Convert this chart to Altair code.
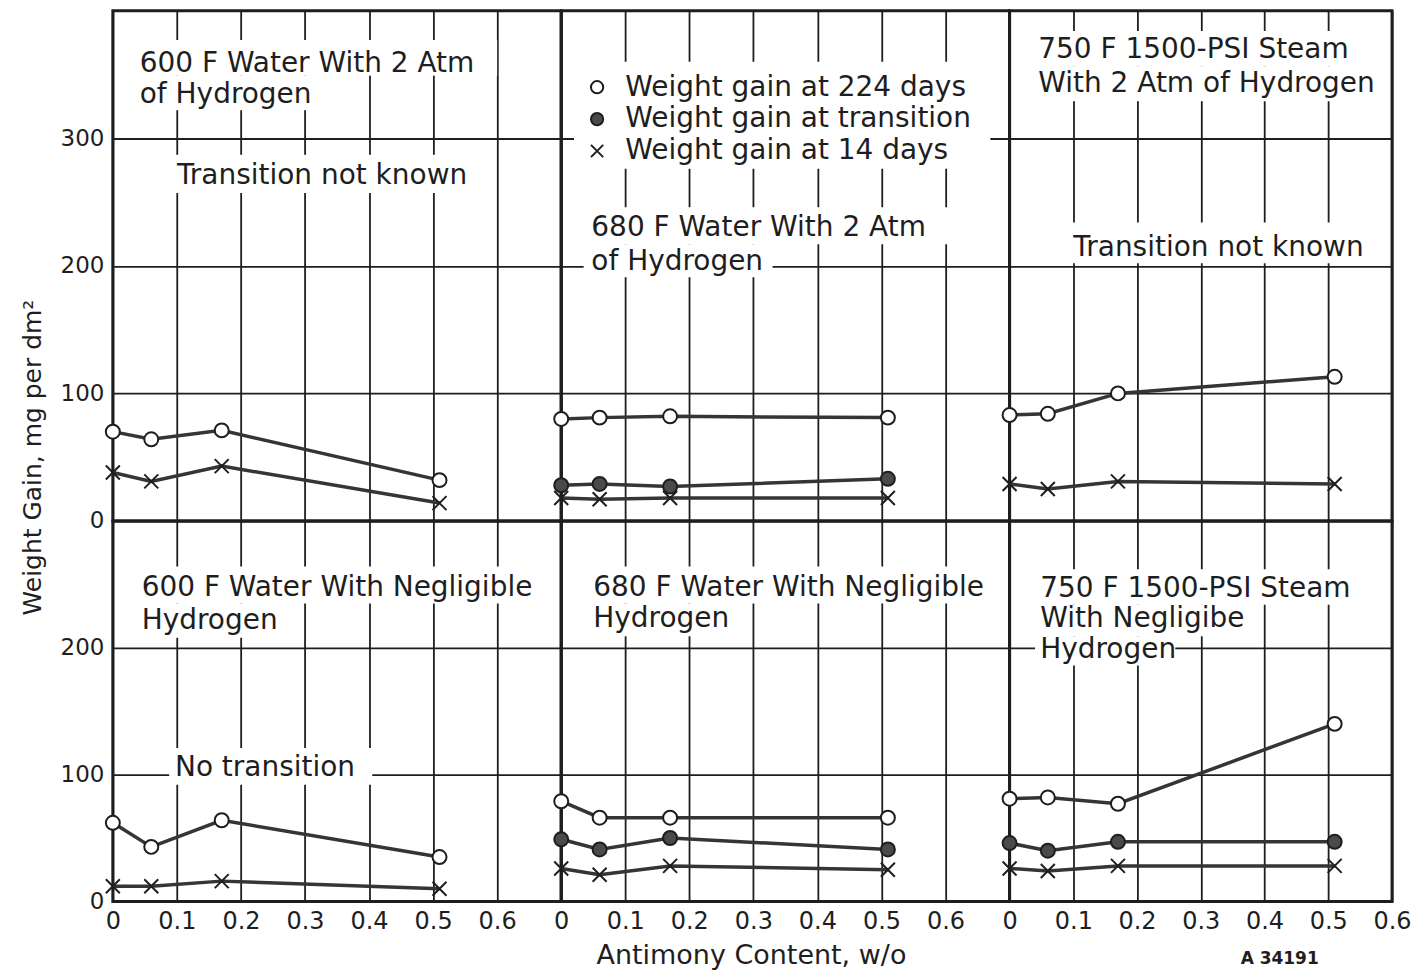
import altair as alt
import pandas as pd

FONT = "DejaVu Sans"
INK = "#1e1e1e"

# ---------------- data ----------------
antimony = [0.0, 0.06, 0.17, 0.51]          # Antimony content, w/o
series_names = ["Weight gain at 224 days", "Weight gain at transition", "Weight gain at 14 days"]

# 600 F water with 2 atm hydrogen
w600_h2_224 = [70, 64, 71, 32]
w600_h2_14 = [38, 31, 43, 14]
# 680 F water with 2 atm hydrogen
w680_h2_224 = [80, 81, 82, 81]
w680_h2_tr = [28, 29, 27, 33]
w680_h2_14 = [18, 17, 18, 18]
# 750 F 1500-psi steam with 2 atm hydrogen
s750_h2_224 = [83, 84, 100, 113]
s750_h2_14 = [29, 25, 31, 29]
# 600 F water with negligible hydrogen
w600_ng_224 = [62, 43, 64, 35]
w600_ng_14 = [12, 12, 16, 10]
# 680 F water with negligible hydrogen
w680_ng_224 = [79, 66, 66, 66]
w680_ng_tr = [49, 41, 50, 41]
w680_ng_14 = [26, 21, 28, 25]
# 750 F 1500-psi steam with negligible hydrogen
s750_ng_224 = [81, 82, 77, 140]
s750_ng_tr = [46, 40, 47, 47]
s750_ng_14 = [26, 24, 28, 28]

x_ticks = [0, 0.1, 0.2, 0.3, 0.4, 0.5, 0.6]
top_y_ticks = [0, 100, 200, 300]
bottom_y_ticks = [0, 100, 200]

panel_series = {
    "p11": [(series_names[0], w600_h2_224), (series_names[2], w600_h2_14)],
    "p12": [(series_names[0], w680_h2_224), (series_names[1], w680_h2_tr), (series_names[2], w680_h2_14)],
    "p13": [(series_names[0], s750_h2_224), (series_names[2], s750_h2_14)],
    "p21": [(series_names[0], w600_ng_224), (series_names[2], w600_ng_14)],
    "p22": [(series_names[0], w680_ng_224), (series_names[1], w680_ng_tr), (series_names[2], w680_ng_14)],
    "p23": [(series_names[0], s750_ng_224), (series_names[1], s750_ng_tr), (series_names[2], s750_ng_14)],
}

# annotation texts: (label, x in w/o, y baseline in mg/dm2)
panel_texts = {
    "p11": [("600 F Water With 2 Atm", 0.042, 352), ("of Hydrogen", 0.042, 328),
            ("Transition not known", 0.1, 264.5)],
    "p12": [("680 F Water With 2 Atm", 0.047, 223), ("of Hydrogen", 0.047, 197)],
    "p13": [("750 F 1500-PSI Steam", 0.045, 363), ("With 2 Atm of Hydrogen", 0.045, 336.5),
            ("Transition not known", 0.1, 208)],
    "p21": [("600 F  Water With Negligible", 0.045, 241), ("Hydrogen", 0.045, 215),
            ("No transition", 0.097, 99)],
    "p22": [("680 F Water With Negligible", 0.05, 241), ("Hydrogen", 0.05, 216)],
    "p23": [("750 F 1500-PSI Steam", 0.048, 240), ("With Negligibe", 0.048, 216),
            ("Hydrogen", 0.048, 192)],
}
# small drawing number below the last panel
code_label = [("A 34191", 0.3625, -49.6)]

# white patches behind lettering (x1, x2, y1, y2)
panel_masks = {
    "p11": [(0.034, 0.60, 349, 377), (0.034, 0.34, 322, 349), (0.092, 0.575, 257, 287)],
    "p12": [(0.02, 0.67, 276, 360), (0.035, 0.615, 217, 246), (0.035, 0.33, 191, 217)],
    "p13": [(0.035, 0.545, 356, 384), (0.035, 0.575, 329, 356), (0.088, 0.565, 202, 234)],
    "p21": [(0.037, 0.675, 235, 264), (0.037, 0.265, 208, 235), (0.088, 0.405, 92, 121)],
    "p22": [(0.042, 0.675, 235, 264), (0.042, 0.26, 209, 235)],
    "p23": [(0.04, 0.55, 234, 262), (0.04, 0.38, 209, 234), (0.04, 0.26, 186, 209)],
}

# legend (drawn inside the 680 F / 2 atm panel)
legend_symbol_x = [0.056, 0.056, 0.056]
legend_symbol_y = [340, 315, 290]
legend_text_x = [0.1, 0.1, 0.1]
legend_text_y = [333.5, 309, 283.5]

X_SHAPE = "M-1,-1L1,1M-1,1L1,-1"
SHAPE = dict(scale=alt.Scale(domain=series_names, range=["circle", "circle", X_SHAPE]), legend=None)
FILL = dict(scale=alt.Scale(domain=series_names, range=["white", "#4a4a4a", "transparent"]), legend=None)

TEXT_SIZE = 28


def make_panel(pid, xmax, ymax, w, h, bottom, left, xtitle=None, ytitle=None):
    xscale = alt.Scale(domain=[0, xmax], nice=False, zero=False)
    yscale = alt.Scale(domain=[0, ymax], nice=False, zero=False)
    xkw = dict(values=x_ticks, labels=bottom, grid=True, gridColor=INK, gridWidth=1.8,
               ticks=False, domain=False, labelFont=FONT, labelFontSize=24, labelColor=INK,
               labelPadding=8, labelFlush=False, labelOverlap=False,
               labelExpr="datum.value == 0 ? '0' : format(datum.value, '.1f')", title=None)
    if xtitle:
        xkw.update(title=xtitle, titleFont=FONT, titleFontSize=27, titleFontWeight="normal",
                   titleColor=INK, titleX=190, titleY=62, titleAlign="center",
                   titleBaseline="alphabetic", titleAngle=0)
    ykw = dict(values=top_y_ticks if ymax == 400 else bottom_y_ticks, labels=left, grid=True,
               gridColor=INK, gridWidth=1.8, ticks=False, domain=False, labelFont=FONT,
               labelFontSize=23, labelColor=INK, labelPadding=9, labelFlush=False,
               labelOverlap=False, title=None)
    if ytitle:
        ykw.update(title=ytitle, titleFont=FONT, titleFontSize=25, titleFontWeight="normal",
                   titleColor=INK, titleX=-72, titleY=447, titleAngle=270, titleAlign="center",
                   titleBaseline="alphabetic")
    xaxis = alt.Axis(**xkw)
    yaxis = alt.Axis(**ykw)

    def X(f):
        return alt.X(f"{f}:Q", scale=xscale, axis=xaxis)

    def Y(f):
        return alt.Y(f"{f}:Q", scale=yscale, axis=yaxis)

    rows = []
    for name, vals in panel_series[pid]:
        for xv, yv in zip(antimony, vals):
            rows.append({"series": name, "sb": xv, "gain": yv})
    df = pd.DataFrame(rows)

    mdf = pd.DataFrame(panel_masks[pid], columns=["x1", "x2", "y1", "y2"])
    tdf = pd.DataFrame(panel_texts[pid], columns=["label", "tx", "ty"])

    masks = alt.Chart(mdf).mark_rect(fill="white").encode(
        x=X("x1"), x2="x2:Q", y=Y("y1"), y2="y2:Q")
    lines = alt.Chart(df).mark_line(color="#353535", strokeWidth=3.5).encode(
        x=X("sb"), y=Y("gain"), detail="series:N")
    pts = alt.Chart(df).mark_point(filled=True, size=196, stroke=INK, strokeWidth=2,
                                   opacity=1).encode(
        x=X("sb"), y=Y("gain"),
        shape=alt.Shape("series:N", **SHAPE), fill=alt.Fill("series:N", **FILL))
    texts = alt.Chart(tdf).mark_text(align="left", baseline="alphabetic", font=FONT,
                                     fontSize=TEXT_SIZE, color=INK).encode(
        x=X("tx"), y=Y("ty"), text="label:N")
    layers = [masks, lines, pts, texts]

    if pid == "p12":
        ldf = pd.DataFrame({"series": series_names, "lx": legend_symbol_x, "ly": legend_symbol_y,
                            "tx": legend_text_x, "ty": legend_text_y})
        lpts = alt.Chart(ldf).mark_point(filled=True, size=150, stroke=INK, strokeWidth=2,
                                         opacity=1).encode(
            x=X("lx"), y=Y("ly"),
            shape=alt.Shape("series:N", **SHAPE), fill=alt.Fill("series:N", **FILL))
        ltxt = alt.Chart(ldf).mark_text(align="left", baseline="alphabetic", font=FONT,
                                        fontSize=TEXT_SIZE, color=INK).encode(
            x=X("tx"), y=Y("ty"), text="series:N")
        layers += [lpts, ltxt]
    if pid == "p23":
        cdf = pd.DataFrame(code_label, columns=["label", "tx", "ty"])
        ctxt = alt.Chart(cdf).mark_text(align="left", baseline="alphabetic", font=FONT,
                                        fontSize=17, fontWeight="bold", color=INK).encode(
            x=X("tx"), y=Y("ty"), text="label:N")
        layers.append(ctxt)

    return alt.layer(*layers).properties(width=w, height=h)


p11 = make_panel("p11", 0.7, 400, 449, 511, False, True, ytitle="Weight Gain, mg per dm²")
p12 = make_panel("p12", 0.7, 400, 449, 511, False, False)
p13 = make_panel("p13", 0.6, 400, 383, 511, False, False)
p21 = make_panel("p21", 0.7, 300, 449, 381, True, True)
p22 = make_panel("p22", 0.7, 300, 449, 381, True, False, xtitle="Antimony Content, w/o")
p23 = make_panel("p23", 0.6, 300, 383, 381, True, False)

chart = alt.concat(p11, p12, p13, p21, p22, p23, columns=3, spacing=0,
                   bounds="flush", align="each").properties(
    padding={"left": 19, "top": 8, "right": 5, "bottom": 5},
    background="white",
).configure_view(stroke=INK, strokeWidth=3)

chart.save("out.html", embed_options={"renderer": "svg", "actions": False})
